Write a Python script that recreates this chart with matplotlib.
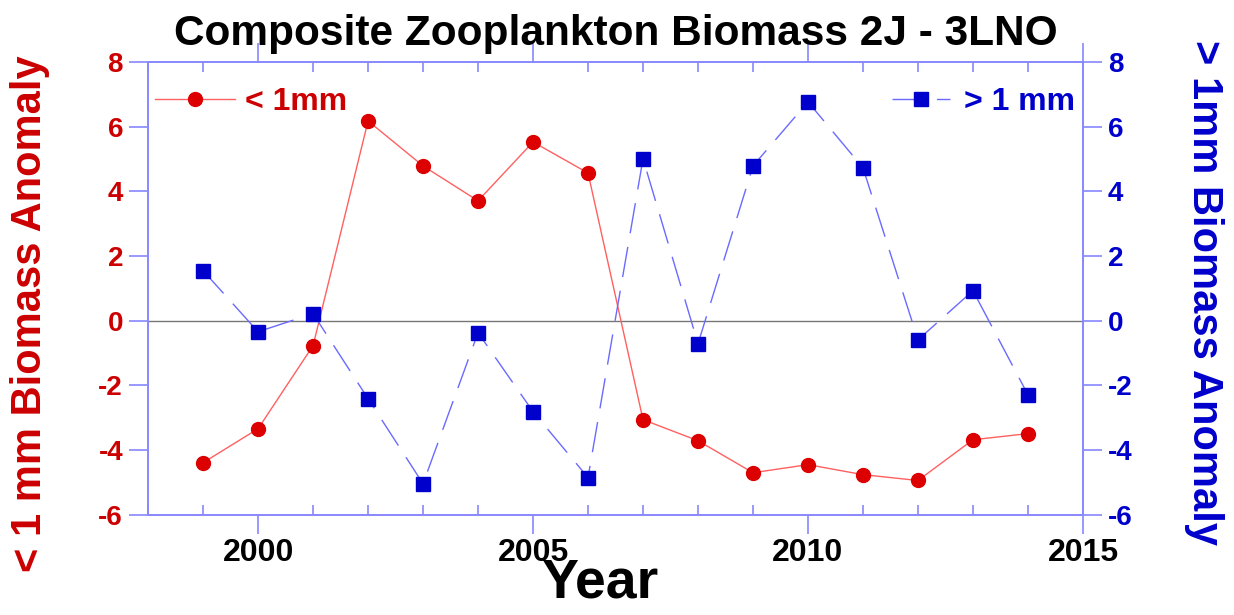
import matplotlib
matplotlib.use("Agg")
import matplotlib.pyplot as plt
from matplotlib.ticker import MultipleLocator

plt.rcParams['font.family'] = ['Liberation Sans', 'DejaVu Sans']
plt.rcParams['font.weight'] = 'bold'
plt.rcParams['axes.unicode_minus'] = False

years = [1999, 2000, 2001, 2002, 2003, 2004, 2005, 2006,
         2007, 2008, 2009, 2010, 2011, 2012, 2013, 2014]
small = [-4.39, -3.34, -0.77, 6.18, 4.79, 3.71, 5.53, 4.57,
         -3.06, -3.71, -4.70, -4.45, -4.76, -4.94, -3.68, -3.49]
large = [1.55, -0.34, 0.22, -2.41, -5.04, -0.37, -2.81, -4.85,
         5.01, -0.71, 4.79, 6.77, 4.73, -0.59, 0.93, -2.29]
y_ticks = [-6, -4, -2, 0, 2, 4, 6, 8]
x_ticks = [2000, 2005, 2010, 2015]

RED = '#cc0000'
BLUE = '#0000cc'
SPINE = '#8888ff'

fig = plt.figure(figsize=(12.34, 6.15), dpi=100)
ax = fig.add_axes([0.12, 0.163, 0.7576, 0.736])
ax2 = ax.twinx()

ax.axhline(0, color='#777777', lw=1, zorder=1)
ax.plot(years, small, color='#ff6060', lw=1, marker='o', markersize=10,
        markerfacecolor='#dd0000', markeredgecolor='#dd0000', label='< 1mm', zorder=3)
ax2.plot(years, large, color='#6a6aff', lw=1, ls=(0, (22, 10)), marker='s', markersize=10.5,
         markerfacecolor=BLUE, markeredgecolor=BLUE, label='> 1 mm', zorder=3)

for a in (ax, ax2):
    a.set_xlim(1998, 2015)
    a.set_ylim(-6, 8)
    a.set_yticks(y_ticks)
    for s in a.spines.values():
        s.set_color(SPINE)
        s.set_linewidth(1.2)

ax.set_xticks(x_ticks)
ax.xaxis.set_minor_locator(MultipleLocator(1))
ax.tick_params(axis='x', which='major', direction='out', length=14, width=1.2,
               color=SPINE, labelsize=23, pad=3, top=True)
ax.tick_params(axis='x', which='minor', direction='in', length=7, width=1.2,
               color=SPINE, top=True)
ax.tick_params(axis='y', which='major', direction='out', length=14, width=1.2,
               color=SPINE, labelsize=20, labelcolor=RED, pad=4)
ax2.tick_params(axis='y', which='major', direction='out', length=14, width=1.2,
                color=SPINE, labelsize=20, labelcolor=BLUE, pad=4)

ax.set_xlabel('Year', fontsize=40, fontweight='bold')
ax.xaxis.set_label_coords(0.483, -0.094)
ax.set_ylabel('< 1 mm Biomass Anomaly', fontsize=30, fontweight='bold', color=RED,
              va='center')
ax.yaxis.set_label_coords(-0.126, 0.445)
ax2.set_ylabel('> 1mm Biomass Anomaly', fontsize=30, fontweight='bold', color=BLUE,
               rotation=270, va='center')
ax2.yaxis.set_label_coords(1.130, 0.49)
ax.set_title('Composite Zooplankton Biomass 2J - 3LNO', fontsize=30.5, fontweight='bold', pad=12)

leg1 = ax.legend(loc='center left', frameon=False, fontsize=23, handlelength=2.5,
                 handletextpad=0.3, borderpad=0, borderaxespad=0,
                 bbox_to_anchor=(0.0075, 0.912))
for t in leg1.get_texts():
    t.set_color(RED)
leg2 = ax2.legend(loc='center right', frameon=False, fontsize=23, handlelength=1.8,
                  handletextpad=0.45, borderpad=0, borderaxespad=0,
                  bbox_to_anchor=(0.9914, 0.912))
for t in leg2.get_texts():
    t.set_color(BLUE)

fig.savefig('out.png', dpi=100)
